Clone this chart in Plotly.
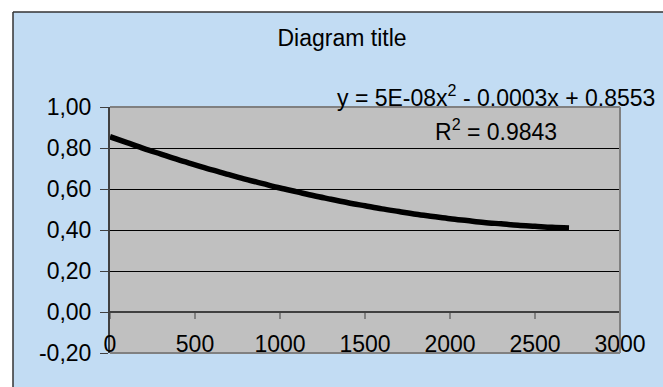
import plotly.graph_objects as go

# data
x_vals = [0, 100, 200, 300, 400, 500, 600, 700, 800, 900, 1000, 1100, 1200, 1300,
          1400, 1500, 1600, 1700, 1800, 1900, 2000, 2100, 2200, 2300, 2400, 2500,
          2600, 2700]
y_vals = [0.855, 0.826, 0.797, 0.770, 0.743, 0.718, 0.693, 0.670, 0.647, 0.626,
          0.605, 0.586, 0.567, 0.550, 0.533, 0.518, 0.503, 0.490, 0.477, 0.466,
          0.455, 0.446, 0.437, 0.430, 0.423, 0.418, 0.413, 0.410]
y_tickvals = [-0.2, 0.0, 0.2, 0.4, 0.6, 0.8, 1.0]
y_ticktext = ["-0,20", "0,00", "0,20", "0,40", "0,60", "0,80", "1,00"]
x_tickvals = [0, 500, 1000, 1500, 2000, 2500, 3000]
x_ticktext = ["0", "500", "1000", "1500", "2000", "2500", "3000"]
title_text = "Diagram title"
eq_text = "y = 5E-08x<sup>2</sup> - 0.0003x + 0.8553"
r2_text = "R<sup>2</sup> = 0.9843"

W, H = 663, 387
L, R, T, B = 110, 43, 107, 34
pw, ph = W - L - R, H - T - B

def px(xp):
    return (xp - L) / pw

def py(yp):
    return (H - B - yp) / ph

FONT = "Liberation Sans, Arial, sans-serif"
BLUE = "#C2DCF3"
FS = 23
TICK_LEN = 7 * 1.2 / ph   # 7 px tick marks expressed in y units

fig = go.Figure()
# x-axis tick marks hanging below the y=0 axis line
fig.add_trace(go.Scatter(x=x_tickvals, y=[0] * len(x_tickvals), mode="markers",
                         marker=dict(size=0.1, opacity=0),
                         error_y=dict(type="data", symmetric=False,
                                      array=[0] * len(x_tickvals),
                                      arrayminus=[TICK_LEN] * len(x_tickvals),
                                      width=0, thickness=1, color="#404040"),
                         hoverinfo="skip", showlegend=False))
fig.add_trace(go.Scatter(x=x_vals, y=y_vals, mode="lines", xaxis="x", yaxis="y",
                         line=dict(color="black", width=5.5, shape="spline"),
                         hoverinfo="skip", showlegend=False))
# carrier for the tick-label axis (invisible)
fig.add_trace(go.Scatter(x=x_vals, y=y_vals, mode="lines", xaxis="x2", yaxis="y",
                         line=dict(color="rgba(0,0,0,0)", width=0.1), opacity=0,
                         hoverinfo="skip", showlegend=False))

fig.update_layout(
    width=W, height=H,
    margin=dict(l=L, r=R, t=T, b=B, pad=0),
    paper_bgcolor=BLUE,
    plot_bgcolor="#C0C0C0",
    font=dict(family=FONT, size=FS, color="black"),
    showlegend=False,
    title=dict(text=title_text, x=342 / W, xref="container", xanchor="center",
               y=1 - 38 / H, yref="container", yanchor="middle",
               font=dict(family=FONT, size=FS, color="black")),
    xaxis=dict(range=[0, 3000], tickvals=x_tickvals, showticklabels=False,
               showgrid=False, zeroline=False, showline=False, ticks=""),
    xaxis2=dict(range=[0, 3000], overlaying="x", anchor="free", position=0,
                side="top", tickvals=x_tickvals, ticktext=x_ticktext,
                showgrid=False, zeroline=False, showline=False, ticks="",
                ticklabelstandoff=-4, tickfont=dict(size=FS, color="black")),
    yaxis=dict(range=[-0.2, 1.0], tickvals=y_tickvals, ticktext=y_ticktext,
               showgrid=True, gridcolor="black", gridwidth=1,
               zeroline=True, zerolinecolor="#404040", zerolinewidth=2,
               showline=True, linecolor="#404040", linewidth=2,
               ticks="outside", ticklen=8, tickwidth=1, tickcolor="#404040",
               ticklabelstandoff=4, tickfont=dict(size=FS, color="black")),
)

# plot-area border (top, right, bottom)
for sx0, sx1, sy0, sy1 in [(0, 1, 1, 1), (1, 1, 0, 1), (0, 1, 0, 0)]:
    fig.add_shape(type="line", xref="paper", yref="paper", x0=sx0, x1=sx1,
                  y0=sy0, y1=sy1, line=dict(color="#808080", width=2), layer="above")

# white page outside the chart frame + frame border
fig.add_shape(type="rect", xref="paper", yref="paper", x0=px(-50), x1=px(13),
              y0=py(500), y1=py(-50), fillcolor="white", line_width=0, layer="above")
fig.add_shape(type="rect", xref="paper", yref="paper", x0=px(-50), x1=px(720),
              y0=py(12), y1=py(-50), fillcolor="white", line_width=0, layer="above")
fig.add_shape(type="line", xref="paper", yref="paper", x0=px(13), x1=px(13),
              y0=py(12), y1=py(500), line=dict(color="#333333", width=1.5), layer="above")
fig.add_shape(type="line", xref="paper", yref="paper", x0=px(13), x1=px(720),
              y0=py(12), y1=py(12), line=dict(color="#333333", width=1.5), layer="above")

fig.add_annotation(text=eq_text, xref="paper", yref="paper", x=px(496), y=py(96),
                   xanchor="center", yanchor="middle", showarrow=False,
                   font=dict(family=FONT, size=FS, color="black"))
fig.add_annotation(text=r2_text, xref="paper", yref="paper", x=px(496), y=py(130),
                   xanchor="center", yanchor="middle", showarrow=False,
                   font=dict(family=FONT, size=FS, color="black"))

fig.write_html("out.html")
